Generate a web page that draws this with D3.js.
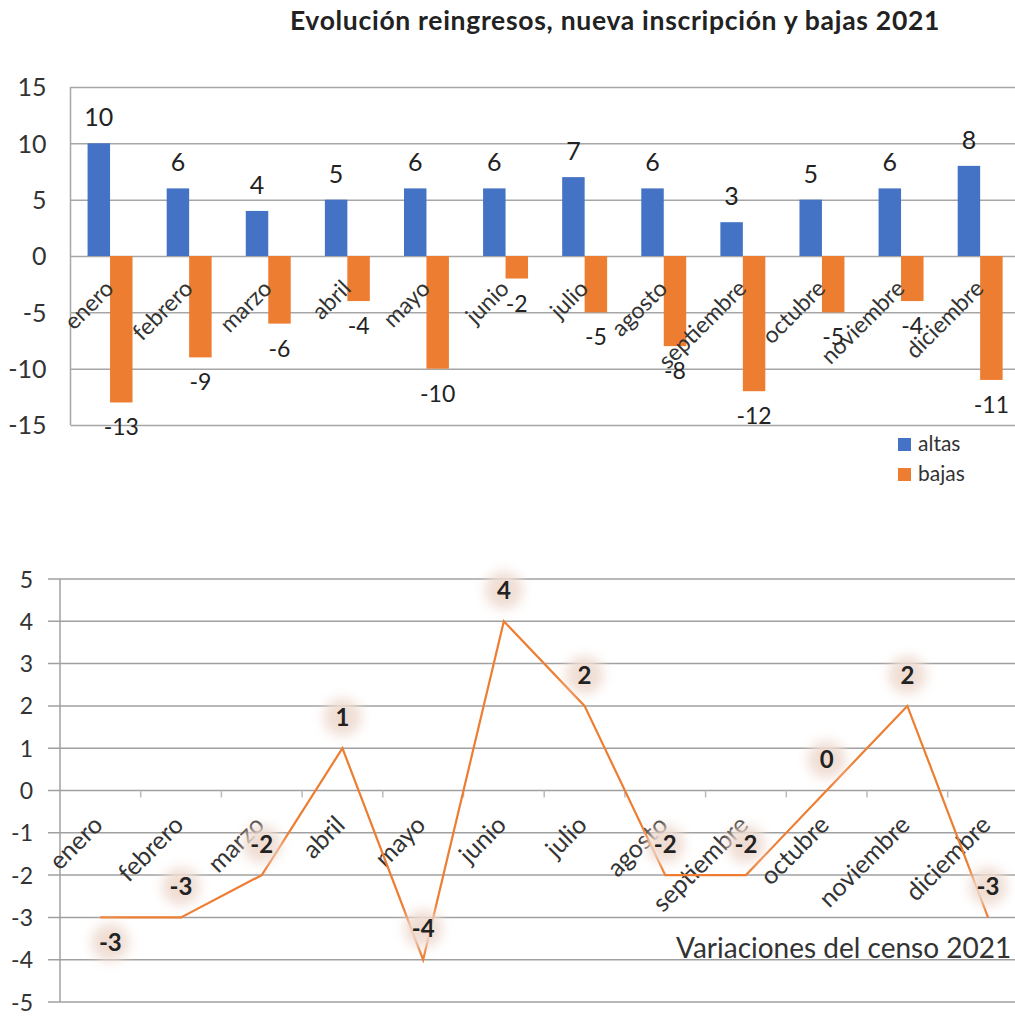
<!DOCTYPE html>
<html>
<head>
<meta charset="utf-8">
<script src="https://cdn.jsdelivr.net/npm/d3@7"></script>
<style>
  body { margin: 0; background: #fff; }
  text { font-family: Lato, "Open Sans", sans-serif; }
</style>
</head>
<body>
<div id="chart"></div>
<script>
// datos del censo 2021
const meses = ["enero", "febrero", "marzo", "abril", "mayo", "junio", "julio",
  "agosto", "septiembre", "octubre", "noviembre", "diciembre"];
const altas = [10, 6, 4, 5, 6, 6, 7, 6, 3, 5, 6, 8];
const bajas = [-13, -9, -6, -4, -10, -2, -5, -8, -12, -5, -4, -11];
const variacion = [-3, -3, -2, 1, -4, 4, 2, -2, -2, 0, 2, -3];
const ticksBarras = [-15, -10, -5, 0, 5, 10, 15];
const ticksLinea = [-5, -4, -3, -2, -1, 0, 1, 2, 3, 4, 5];
const series = ["altas", "bajas"];

const W = 1015, H = 1017;
const azul = "#4472C4", naranja = "#ED7D31";
const gris = "#a6a6a6", texto = "#333";

const svg = d3.select("#chart").append("svg")
  .attr("width", W).attr("height", H);

svg.append("rect").attr("width", W).attr("height", H).attr("fill", "#fff");

// glow para las etiquetas de la linea
const defs = svg.append("defs");
defs.append("filter").attr("id", "glow")
  .attr("x", "-100%").attr("y", "-100%").attr("width", "300%").attr("height", "300%")
  .append("feGaussianBlur").attr("stdDeviation", 6);

// ---------- grafico de barras ----------
const m1 = { left: 70.5, top: 87, bottom: 425 };

const x = d3.scaleBand()
  .domain(meses)
  .range([m1.left, m1.left + 12 * 79.1]);

const xSub = d3.scaleBand()
  .domain(series)
  .range([0, x.bandwidth()])
  .paddingOuter(0.76);

const y = d3.scaleLinear()
  .domain([-15, 15])
  .range([m1.bottom, m1.top]);

svg.append("text")
  .attr("x", 615).attr("y", 30)
  .attr("text-anchor", "middle")
  .attr("font-size", 26.5).attr("font-weight", 700)
  .attr("letter-spacing", 0.7)
  .attr("fill", "#222")
  .text("Evolución reingresos, nueva inscripción y bajas 2021");

// eje y y rejilla
const gy = svg.append("g")
  .attr("transform", `translate(${m1.left},0)`)
  .call(d3.axisLeft(y).tickValues(ticksBarras).tickFormat(d => d)
    .tickSize(-(W - m1.left)).tickPadding(24));
gy.select(".domain").remove();
gy.selectAll(".tick line").attr("stroke", gris).attr("stroke-width", 1.5);
gy.selectAll(".tick text").attr("font-size", 25).attr("fill", texto).attr("dy", "0.35em");

svg.append("line")
  .attr("x1", m1.left).attr("x2", m1.left)
  .attr("y1", y(15)).attr("y2", y(-15))
  .attr("stroke", gris).attr("stroke-width", 1.5);

const grupos = svg.append("g").selectAll("g")
  .data(meses)
  .join("g")
  .attr("transform", d => `translate(${x(d)},0)`);

grupos.append("rect")
  .attr("x", xSub("altas"))
  .attr("width", xSub.bandwidth())
  .attr("y", (d, i) => y(altas[i]))
  .attr("height", (d, i) => y(0) - y(altas[i]))
  .attr("fill", azul);

grupos.append("rect")
  .attr("x", xSub("bajas"))
  .attr("width", xSub.bandwidth())
  .attr("y", y(0))
  .attr("height", (d, i) => y(bajas[i]) - y(0))
  .attr("fill", naranja);

grupos.append("text")
  .attr("x", xSub("altas") + xSub.bandwidth() / 2)
  .attr("y", (d, i) => y(altas[i]) - 17)
  .attr("text-anchor", "middle")
  .attr("font-size", 25).attr("fill", "#222")
  .text((d, i) => altas[i]);

// etiquetas de meses
const gx = svg.append("g")
  .attr("transform", `translate(0,${y(0)})`)
  .call(d3.axisBottom(x).tickSize(0));
gx.select(".domain").remove();
gx.selectAll(".tick text")
  .attr("x", 0).attr("y", 0).attr("dy", 0)
  .attr("text-anchor", "end")
  .attr("transform", "translate(5,34) rotate(-45)")
  .attr("font-size", 23).attr("fill", texto);

grupos.append("text")
  .attr("x", xSub("bajas") + xSub.bandwidth() / 2)
  .attr("y", (d, i) => y(bajas[i]) + 33)
  .attr("text-anchor", "middle")
  .attr("font-size", 23).attr("fill", "#222")
  .text((d, i) => bajas[i]);

// leyenda
const leyenda = svg.append("g").attr("transform", "translate(898,438)")
  .selectAll("g").data(series).join("g")
  .attr("transform", (d, i) => `translate(0,${i * 30})`);
leyenda.append("rect").attr("width", 13).attr("height", 13)
  .attr("fill", d => d === "altas" ? azul : naranja);
leyenda.append("text").attr("x", 20).attr("y", 13)
  .attr("font-size", 21).attr("fill", texto).text(d => d);

// ---------- grafico de linea ----------
const m2 = { left: 60, top: 579, bottom: 1002 };

const x2 = d3.scaleBand()
  .domain(meses)
  .range([m2.left, m2.left + 12 * 80.7]);

const y2 = d3.scaleLinear()
  .domain([-5, 5])
  .range([m2.bottom, m2.top]);

const gy2 = svg.append("g")
  .attr("transform", `translate(${m2.left},0)`)
  .call(d3.axisLeft(y2).tickValues(ticksLinea).tickFormat(d => d)
    .tickSize(0).tickPadding(27));
gy2.select(".domain").remove();
gy2.selectAll(".tick text").attr("font-size", 23).attr("fill", texto).attr("dy", "0.35em");

svg.append("g").selectAll("line")
  .data(ticksLinea)
  .join("line")
  .attr("x1", m2.left - 12).attr("x2", W)
  .attr("y1", d => y2(d)).attr("y2", d => y2(d))
  .attr("stroke", "#a0a0a0").attr("stroke-width", 1.5);

svg.append("line")
  .attr("x1", m2.left).attr("x2", m2.left)
  .attr("y1", y2(5)).attr("y2", y2(-5))
  .attr("stroke", "#a0a0a0").attr("stroke-width", 1.5);

// marcas entre categorias
svg.append("g").selectAll("line")
  .data(meses.slice(1))
  .join("line")
  .attr("x1", d => x2(d)).attr("x2", d => x2(d))
  .attr("y1", y2(0)).attr("y2", y2(0) + 7)
  .attr("stroke", "#bbb").attr("stroke-width", 1.5);

const gx2 = svg.append("g")
  .attr("transform", `translate(0,${y2(0)})`)
  .call(d3.axisBottom(x2).tickSize(0));
gx2.select(".domain").remove();
gx2.selectAll(".tick text")
  .attr("x", 0).attr("y", 0).attr("dy", 0)
  .attr("text-anchor", "end")
  .attr("transform", "translate(4,36) rotate(-45)")
  .attr("font-size", 25).attr("fill", texto);

const cx = d => x2(d) + x2.bandwidth() / 2;

svg.append("path")
  .datum(meses)
  .attr("fill", "none")
  .attr("stroke", naranja)
  .attr("stroke-width", 2.2)
  .attr("d", d3.line().x(cx).y((d, i) => y2(variacion[i])));

// etiquetas con halo
const etq = svg.append("g").selectAll("g")
  .data(meses)
  .join("g")
  .attr("transform", (d, i) => `translate(${cx(d) + (i === 0 ? 10 : 0)},${y2(variacion[i]) + (i === 0 ? 25 : -31)})`);

etq.append("circle")
  .attr("r", 19)
  .attr("fill", "#efdcd2")
  .attr("opacity", 0.95)
  .attr("filter", "url(#glow)");

etq.append("text")
  .attr("text-anchor", "middle")
  .attr("dy", "0.36em")
  .attr("font-size", 24).attr("font-weight", 700)
  .attr("fill", "#222")
  .text((d, i) => variacion[i]);

svg.append("text")
  .attr("x", 676).attr("y", 958)
  .attr("font-size", 28).attr("fill", "#333")
  .text("Variaciones del censo 2021");
</script>
</body>
</html>
